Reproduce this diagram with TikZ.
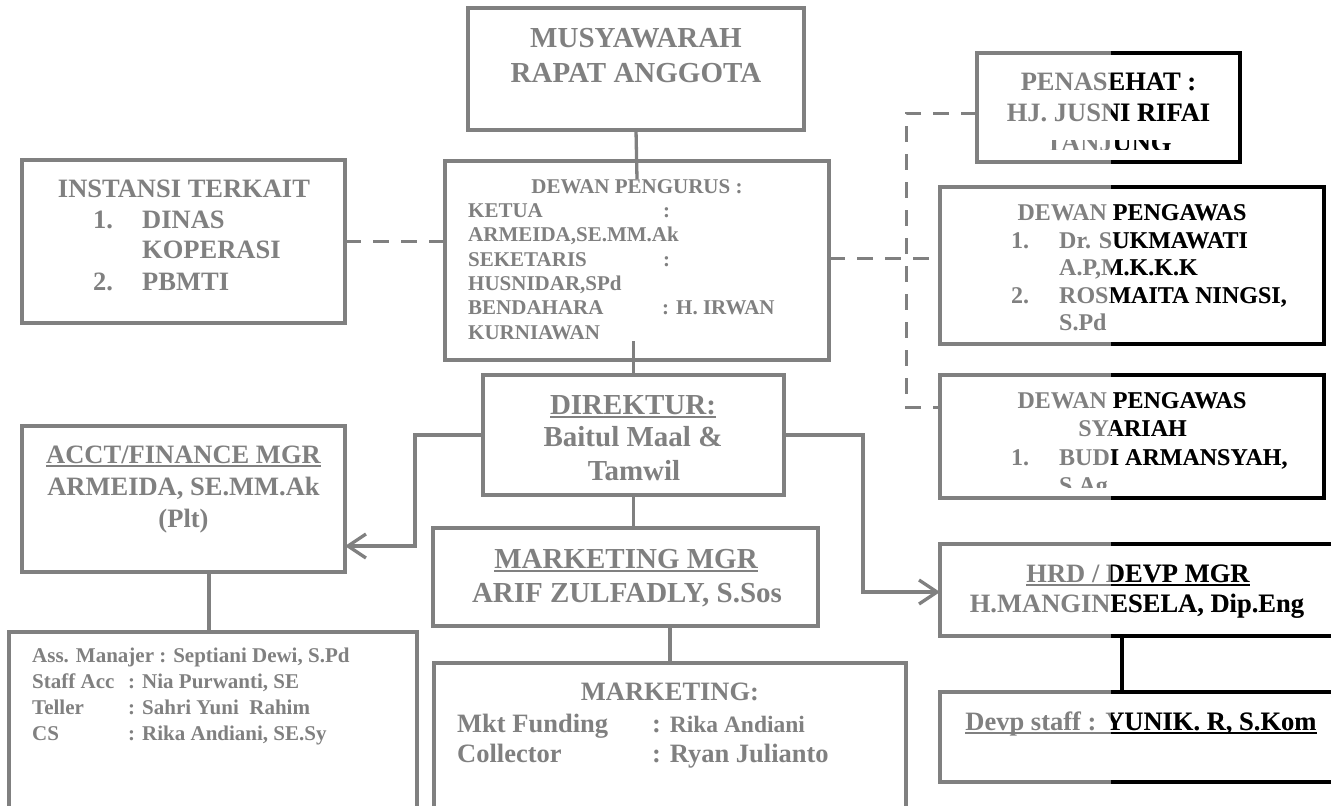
\documentclass[tikz,border=0pt]{standalone}
\usepackage{fontspec}
\setmainfont{Liberation Serif}
\usetikzlibrary{arrows.meta,calc}
\definecolor{lg}{RGB}{128,128,128}
\newcommand\myul[1]{\setbox0\hbox{#1}\rlap{\rule[-3.5pt]{\wd0}{2pt}}\box0}
\newcommand\mkbox[5]{\node[box,anchor=north west,minimum width={(#4)-(#2)},minimum height={(#5)-(#3)}] (#1) at (#2,#3) {};}
\def\cc{lg}\def\lw{3.3}
\tikzset{
  box/.style={draw=\cc,line width=\lw,inner sep=0pt,outer sep=0pt},
  conn/.style={draw=\cc,line width=\lw},
  dconn/.style={draw=\cc,line width=3,dash pattern=on 16 off 12},
  txt/.style={text=\cc,inner sep=0pt,anchor=base},
  tA/.style={txt,font=\fontsize{29}{34}\selectfont\bfseries},
  tB/.style={txt,font=\fontsize{26.5}{31}\selectfont\bfseries},
  tC/.style={txt,font=\fontsize{24}{28}\selectfont\bfseries},
  tD/.style={txt,font=\fontsize{21}{24}\selectfont\bfseries},
  tE/.style={txt,font=\fontsize{23.5}{28}\selectfont\bfseries},
}
\newcommand\rightstuff{%
  % PENASEHAT
  \mkbox{pen}{977}{53}{1240}{162}
  \node[tB] (pen1) at (1108.5,90) {PENASEHAT :};
  \node[tB] (pen2) at (1108.5,121) {HJ. JUSNI RIFAI};
  \begin{scope}
    \clip (970,140) rectangle (1250,149.5);
    \node[tB] (pen3) at (1108.5,151) {TANJUNG};
  \end{scope}
  % DEWAN PENGAWAS
  \mkbox{dpw}{940}{187}{1324}{344}
  \node[tC] (dpw1) at (1132,220) {DEWAN PENGAWAS};
  \node[tC,anchor=base west] (dpw2) at (1011,248) {1.};
  \node[tC,anchor=base west] (dpw3) at (1059,248) {Dr. SUKMAWATI};
  \node[tC,anchor=base west] (dpw4) at (1059,275) {A.P,M.K.K.K};
  \node[tC,anchor=base west] (dpw5) at (1011,303) {2.};
  \node[tC,anchor=base west] (dpw6) at (1059,303) {ROSMAITA NINGSI,};
  \node[tC,anchor=base west] (dpw7) at (1059,330) {S.Pd};
  % DEWAN PENGAWAS SYARIAH
  \mkbox{dps}{940}{375}{1324}{498}
  \node[tC] (dps1) at (1132,408) {DEWAN PENGAWAS};
  \node[tC] (dps2) at (1132.5,436) {SYARIAH};
  \node[tC,anchor=base west] (dps3) at (1011,465) {1.};
  \node[tC,anchor=base west] (dps4) at (1059,465) {BUDI ARMANSYAH,};
  \begin{scope}
    \clip (1000,470) rectangle (1300,487);
    \node[tC,anchor=base west] (dps5) at (1059,493) {S.Ag};
  \end{scope}
  % HRD
  \mkbox{hrd}{940}{544}{1345}{636}
  \node[tB] (hrd1) at (1138,582) {\myul{HRD / DEVP MGR}};
  \node[tB] (hrd2) at (1137,612) {H.MANGINESELA, Dip.Eng};
  % Devp staff
  \mkbox{dev}{940}{692}{1345}{782}
  \node[tB] (dev1) at (1141,730) {\myul{Devp staff : YUNIK. R, S.Kom}};
  \draw[conn] (hrd.south -| 1122,0) -- (dev.north -| 1122,0);
}
\begin{document}
\begin{tikzpicture}[x=1pt,y=-1pt]
\useasboundingbox (0,0) rectangle (1331,806);
\clip (0,0) rectangle (1331,806);
\fill[white] (0,0) rectangle (1331,806);

% MUSYAWARAH
\mkbox{mra}{468}{8}{804}{130}
\node[tA] (mra1) at (636,47) {MUSYAWARAH};
\node[tA] (mra2) at (636,82) {RAPAT ANGGOTA};

% INSTANSI TERKAIT
\mkbox{ins}{22}{160}{345}{323}
\node[tB] (ins1) at (184,197) {INSTANSI TERKAIT};
\node[tB,anchor=base west] (ins2) at (93,228) {1.};
\node[tB,anchor=base west] (ins3) at (142,228) {DINAS};
\node[tB,anchor=base west] (ins4) at (142,258) {KOPERASI};
\node[tB,anchor=base west] (ins5) at (93,290) {2.};
\node[tB,anchor=base west] (ins6) at (142,290) {PBMTI};

% DEWAN PENGURUS
\mkbox{dp}{445}{161}{829}{360}
\node[tD] (dp1) at (637,193) {DEWAN PENGURUS :};
\node[tD,anchor=base west] (dp2) at (468,217) {\makebox[195pt][l]{KETUA}:};
\node[tD,anchor=base west] (dp3) at (468,241) {ARMEIDA,SE.MM.Ak};
\node[tD,anchor=base west] (dp4) at (468,266) {\makebox[195pt][l]{SEKETARIS}:};
\node[tD,anchor=base west] (dp5) at (468,290) {HUSNIDAR,SPd};
\node[tD,anchor=base west] (dp6) at (468,314) {\makebox[194pt][l]{BENDAHARA}: H. IRWAN};
\node[tD,anchor=base west] (dp7) at (468,339) {KURNIAWAN};

% DIREKTUR
\mkbox{dir}{483}{375}{784}{495}
\node[tA] (dir1) at (633,414) {\myul{DIREKTUR:}};
\node[tA] (dir2) at (633,446) {Baitul Maal \&};
\node[tA] (dir3) at (634,480) {Tamwil};

% ACCT / FINANCE
\mkbox{acc}{22}{426}{345}{572}
\node[tB] (acc1) at (183.5,463) {\myul{ACCT/FINANCE MGR}};
\node[tB] (acc2) at (183.5,495) {ARMEIDA, SE.MM.Ak};
\node[tB] (acc3) at (183.5,527) {(Plt)};

% Accounting staff
\mkbox{ast}{9}{632}{417}{830}
\node[tD,anchor=base west] (ast1) at (32,662) {Ass. Manajer : Septiani Dewi, S.Pd};
\node[tD,anchor=base west] (ast2) at (32,688) {\makebox[96pt][l]{Staff Acc}: Nia Purwanti, SE};
\node[tD,anchor=base west] (ast3) at (32,714) {\makebox[96pt][l]{Teller}: Sahri Yuni\ \ Rahim};
\node[tD,anchor=base west] (ast4) at (32,740) {\makebox[96pt][l]{CS}: Rika Andiani, SE.Sy};

% MARKETING MGR
\mkbox{mmg}{433}{528}{818}{626}
\node[tA] (mmg1) at (626,568) {\myul{MARKETING MGR}};
\node[tA] (mmg2) at (627,602) {ARIF ZULFADLY, S.Sos};

% MARKETING staff
\mkbox{mkt}{434}{663}{906}{830}
\node[tB] (mkt1) at (670,700) {MARKETING:};
\node[tB,anchor=base west] (mkt2) at (457,732) {\makebox[195pt][l]{Mkt Funding}: {\fontsize{23.5}{28}\selectfont Rika Andiani}};
\node[tB,anchor=base west] (mkt3) at (457,762) {\makebox[195pt][l]{Collector}: Ryan Julianto};

% right column (grey pass)
\rightstuff

% connectors
\draw[conn] (mra.south) -- ($(dp.north)+(0,18)$);
\draw[conn] ($(dir.north)+(0,-34)$) -- (dir.north);
\draw[conn] (dir.south) -- (mmg.north -| dir.south);
\draw[conn] (mmg.south -| mkt.north) -- (mkt.north);
\draw[conn] (acc.south -| 209,0) -- (ast.north -| 209,0);
\draw[conn,-{Straight Barb[length=18pt,width=24pt,line width=3.3pt]}] (dir.west) -| (415,546) -- (acc.east |- 415,546);
\draw[conn,-{Straight Barb[length=18pt,width=24pt,line width=3.3pt]}] (dir.east) -| (863,592) -- (hrd.west |- 863,592);

% dashed connectors
\draw[dconn] (ins.east) -- (ins.east -| dp.west);
\draw[dconn] (dp.east |- 0,258) -- (dpw.west |- 0,258);
\draw[dconn] (pen.west |- 0,113) -| (906,407) -- (dps.west |- 0,407);

% black pass of the right part
\begin{scope}
  \clip (1111,0) rectangle (1340,810);
  \def\cc{black}\def\lw{4.2}
  \rightstuff
\end{scope}
\end{tikzpicture}
\end{document}
